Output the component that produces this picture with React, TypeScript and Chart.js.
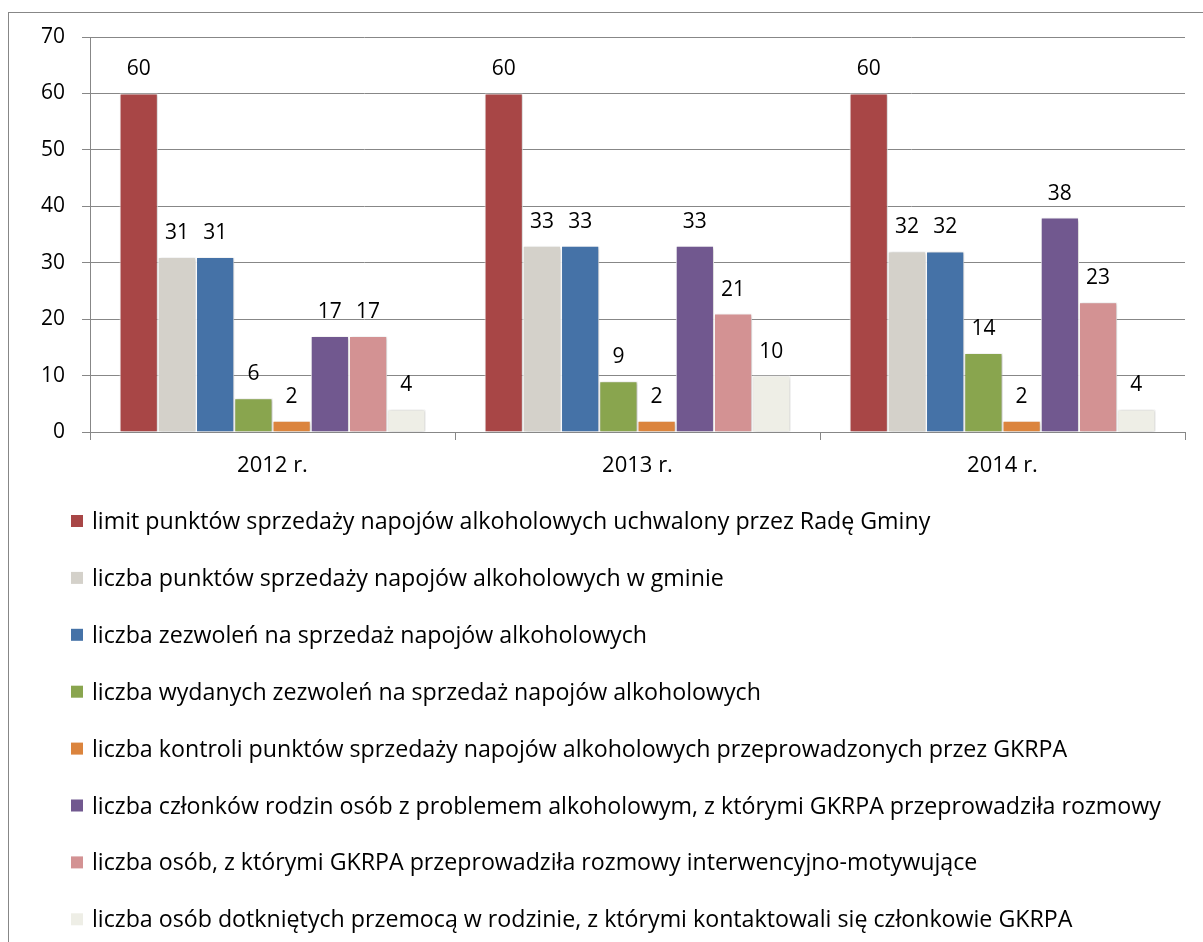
import React, { useEffect, useRef } from "react";
import { Chart, registerables } from "chart.js";

Chart.register(...registerables);

const categories = ["2012 r.", "2013 r.", "2014 r."];

const seriesLabels = [
  "limit punktów sprzedaży napojów alkoholowych uchwalony przez Radę Gminy",
  "liczba punktów sprzedaży napojów alkoholowych w gminie",
  "liczba zezwoleń na sprzedaż napojów alkoholowych",
  "liczba wydanych zezwoleń na sprzedaż napojów alkoholowych",
  "liczba kontroli punktów sprzedaży napojów alkoholowych przeprowadzonych przez GKRPA",
  "liczba członków rodzin osób z problemem alkoholowym, z którymi GKRPA przeprowadziła rozmowy",
  "liczba osób, z którymi GKRPA przeprowadziła rozmowy interwencyjno-motywujące",
  "liczba osób dotkniętych przemocą w rodzinie, z którymi kontaktowali się członkowie GKRPA",
];

const limitValues = [60, 60, 60];
const pointsValues = [31, 33, 32];
const permitsValues = [31, 33, 32];
const issuedPermitsValues = [6, 9, 14];
const inspectionsValues = [2, 2, 2];
const familyMembersValues = [17, 33, 38];
const interviewsValues = [17, 21, 23];
const violenceValues = [4, 10, 4];

const seriesValues = [
  limitValues,
  pointsValues,
  permitsValues,
  issuedPermitsValues,
  inspectionsValues,
  familyMembersValues,
  interviewsValues,
  violenceValues,
];

const seriesColors = [
  "#A84646",
  "#D4D1CA",
  "#4572A7",
  "#89A54E",
  "#DB843D",
  "#71588F",
  "#D39293",
  "#EEEEE6",
];

const yTicks = [0, 10, 20, 30, 40, 50, 60, 70];

const FONT = "'Open Sans', 'Noto Sans', sans-serif";
const FONT_SIZE = 21;
const LEGEND_FONT_SIZE = 23.2;
const GRID = "#878787";

const shadowPlugin = {
  id: "barShadow",
  beforeDatasetsDraw(chart: any) {
    const ctx = chart.ctx;
    ctx.save();
    ctx.shadowColor = "rgba(0,0,0,0.28)";
    ctx.shadowBlur = 3;
    ctx.shadowOffsetX = 1;
    ctx.shadowOffsetY = 1;
  },
  afterDatasetsDraw(chart: any) {
    chart.ctx.restore();
  },
};

const labelsPlugin = {
  id: "valueLabels",
  afterDatasetsDraw(chart: any) {
    const ctx = chart.ctx;
    ctx.save();
    ctx.font = `${FONT_SIZE}px ${FONT}`;
    ctx.fillStyle = "#000";
    ctx.textAlign = "center";
    ctx.textBaseline = "alphabetic";
    chart.data.datasets.forEach((ds: any, i: number) => {
      const meta = chart.getDatasetMeta(i);
      meta.data.forEach((el: any, j: number) => {
        ctx.fillText(String(ds.data[j]), el.x, el.y - 18);
      });
    });
    ctx.restore();
  },
};

const legendPlugin = {
  id: "stackedLegend",
  afterDraw(chart: any) {
    const ctx = chart.ctx;
    ctx.save();
    ctx.font = `${LEGEND_FONT_SIZE}px ${FONT}`;
    ctx.textAlign = "left";
    ctx.textBaseline = "alphabetic";
    const top = chart.chartArea.bottom + 97;
    const step = 56.9;
    chart.data.datasets.forEach((ds: any, i: number) => {
      const base = top + i * step;
      ctx.fillStyle = ds.backgroundColor;
      ctx.fillRect(62, base - 14, 12, 12);
      ctx.fillStyle = "#000";
      ctx.fillText(ds.label, 83, base);
    });
    ctx.restore();
  },
};

export default function App() {
  const ref = useRef<HTMLCanvasElement | null>(null);

  useEffect(() => {
    document.body.style.overflow = "hidden";
    const canvas = ref.current;
    if (!canvas) return;
    const chart = new Chart(canvas, {
      type: "bar",
      data: {
        labels: categories,
        datasets: seriesLabels.map((label, i) => ({
          label,
          data: seriesValues[i],
          backgroundColor: seriesColors[i],
          borderColor: "#FFFFFF",
          borderWidth: 1,
          categoryPercentage: 0.838,
          barPercentage: 1,
        })),
      },
      options: {
        responsive: false,
        animation: false,
        devicePixelRatio: 1,
        layout: { padding: { left: 0, top: 24, right: 24, bottom: 461 } },
        plugins: {
          legend: { display: false },
          tooltip: { enabled: false },
        },
        scales: {
          x: {
            offset: true,
            grid: {
              offset: true,
              drawOnChartArea: false,
              drawTicks: true,
              tickLength: 8,
              color: GRID,
            },
            border: { color: GRID, width: 1 },
            ticks: {
              color: "#000",
              padding: 13,
              font: { family: FONT, size: 22 },
            },
            afterFit(scale: any) {
              scale.height = 60;
              scale.paddingLeft = 0;
              scale.paddingRight = 0;
            },
          },
          y: {
            min: 0,
            max: 70,
            afterBuildTicks(scale: any) {
              scale.ticks = yTicks.map((v) => ({ value: v }));
            },
            grid: {
              color: GRID,
              drawTicks: true,
              tickLength: 8,
            },
            border: { color: GRID, width: 1 },
            ticks: {
              color: "#000",
              padding: 17,
              font: { family: FONT, size: FONT_SIZE },
            },
            afterFit(scale: any) {
              scale.width = 81;
              scale.paddingTop = 0;
              scale.paddingBottom = 0;
            },
          },
        },
      },
      plugins: [shadowPlugin, labelsPlugin, legendPlugin],
    });
    return () => chart.destroy();
  }, []);

  return (
    <div
      style={{
        position: "absolute",
        left: 8,
        top: 12,
        width: 1210,
        height: 960,
        border: `1px solid ${GRID}`,
        boxSizing: "border-box",
      }}
    >
      <canvas
        ref={ref}
        width={1200}
        height={940}
        style={{ display: "block", width: 1200, height: 940 }}
      />
    </div>
  );
}
